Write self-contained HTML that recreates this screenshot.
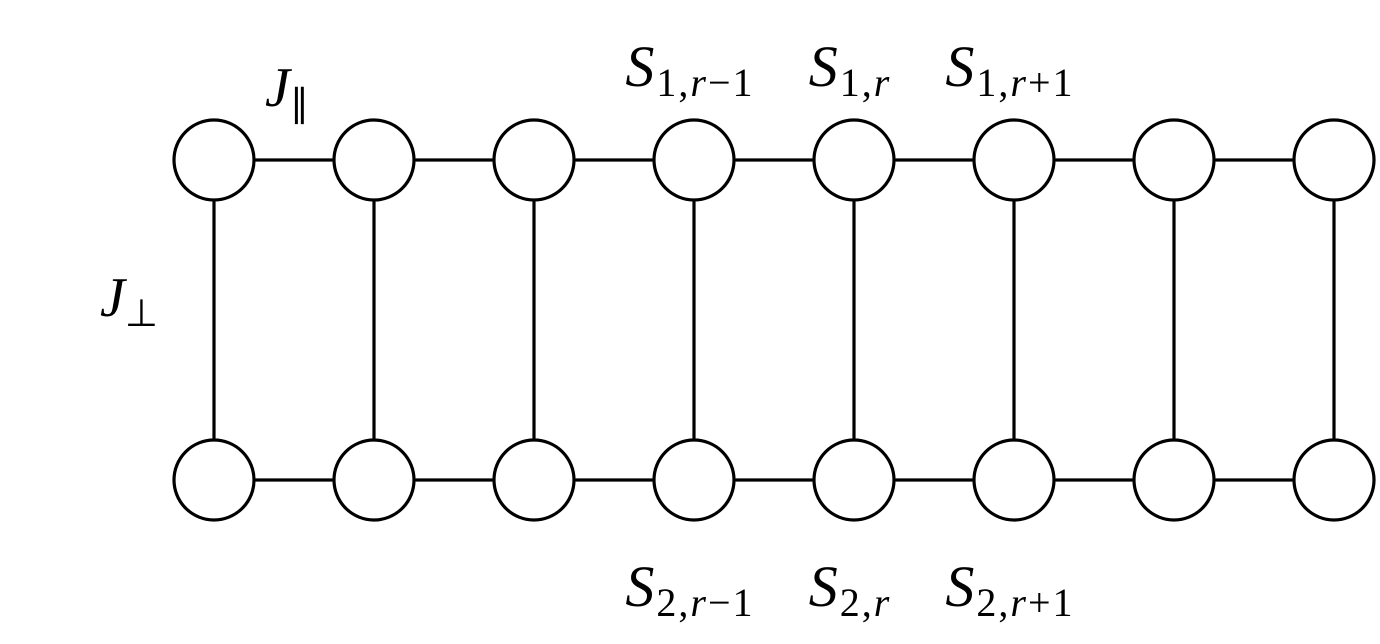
<!DOCTYPE html>
<html><head><meta charset="utf-8"><style>
html,body{margin:0;padding:0;background:#fff;}
svg{display:block;}
text{font-family:"Liberation Serif",serif;fill:#000;}
.it{font-style:italic;}
</style></head><body>
<svg id="c" width="1380" height="644" viewBox="0 0 1380 644" xmlns="http://www.w3.org/2000/svg">
<g id="lines"></g>
<g id="nodes"></g>
<g id="labels">
<text x="265" y="106" font-size="56" class="it">J<tspan font-size="38" dy="10" font-style="normal">∥</tspan></text>
<text x="100" y="316" font-size="56" class="it">J<tspan font-size="38" dy="10" font-style="normal">⊥</tspan></text>
</g>
</svg>
<script>
const columns = [0,1,2,3,4,5,6,7];
const rows = [1,2];
const siteLabels = [[3,"r−1"],[4,"r"],[5,"r+1"]];
const x0=214, dx=160, yTop=160, yBot=480, R=40;
const colX = i => x0 + i*dx;
const rowY = r => r===1 ? yTop : yBot;
const NS="http://www.w3.org/2000/svg";
const lines=document.getElementById('lines'), nodes=document.getElementById('nodes'), labels=document.getElementById('labels');
function ln(x1,y1,x2,y2,name){const l=document.createElementNS(NS,'line');
l.setAttribute('x1',x1);l.setAttribute('y1',y1);l.setAttribute('x2',x2);l.setAttribute('y2',y2);
l.setAttribute('stroke','#000');l.setAttribute('stroke-width','3.2');


lines.appendChild(l);}
columns.forEach(i=>{
  if(i<columns.length-1){rows.forEach(r=>ln(colX(i),rowY(r),colX(i+1),rowY(r),'leg-bond'));}
  ln(colX(i),yTop,colX(i),yBot,'rung-bond');
  rows.forEach(r=>{const c=document.createElementNS(NS,'circle');
    c.setAttribute('cx',colX(i));c.setAttribute('cy',rowY(r));c.setAttribute('r',R);
    c.setAttribute('fill','#fff');c.setAttribute('stroke','#000');c.setAttribute('stroke-width','3.2');
    
    
    nodes.appendChild(c);});
});
siteLabels.forEach(([i,s])=>{
  rows.forEach(r=>{
    const t=document.createElementNS(NS,'text');
    t.setAttribute('x',colX(i)-4);t.setAttribute('y',r===1?86:606);
    t.setAttribute('text-anchor','middle');t.setAttribute('font-size','58');
    t.setAttribute('letter-spacing','2');
    
    
    const parts=s.replace('r','|r|').split('|').filter(p=>p);
    let html='<tspan class="it">S</tspan><tspan font-size="40" dy="10">'+r+',</tspan>';
    parts.forEach(p=>{html+= p==='r' ? '<tspan font-size="40" class="it">r</tspan>' : '<tspan font-size="40">'+p+'</tspan>';});
    t.innerHTML=html;
    labels.appendChild(t);
  });
});
</script>
</body></html>
